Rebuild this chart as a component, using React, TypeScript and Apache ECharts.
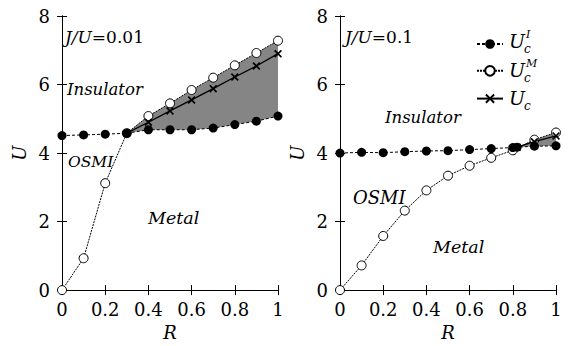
import React, { useEffect, useRef } from "react";
import * as echarts from "echarts";

// ---- data ----
const R = [0, 0.1, 0.2, 0.3, 0.4, 0.5, 0.6, 0.7, 0.8, 0.9, 1];

// Left panel, J/U = 0.01
const leftUcI = [4.51, 4.53, 4.55, 4.58, 4.68, 4.68, 4.68, 4.73, 4.83, 4.93, 5.08];
const leftUcM = [0, 0.93, 3.12, 4.58, 5.08, 5.45, 5.84, 6.2, 6.56, 6.92, 7.28];
const leftUcR = [0.3, 0.4, 0.5, 0.6, 0.7, 0.8, 0.9, 1];
const leftUc = [4.58, 4.9, 5.23, 5.55, 5.88, 6.22, 6.54, 6.9];

// Right panel, J/U = 0.1
const rightUcIR = [0, 0.1, 0.2, 0.3, 0.4, 0.5, 0.6, 0.7, 0.8, 0.82, 0.9, 1];
const rightUcI = [4.0, 4.02, 4.01, 4.04, 4.06, 4.07, 4.1, 4.13, 4.16, 4.17, 4.2, 4.21];
const rightUcM = [0, 0.72, 1.58, 2.32, 2.91, 3.34, 3.63, 3.86, 4.08, 4.39, 4.6];
const rightUcR = [0.82, 0.9, 1];
const rightUc = [4.17, 4.33, 4.5];

const zip = (xs: number[], ys: number[]) => xs.map((x, i) => [x, ys[i]]);

const leftShadeUpper = zip(R.slice(3), leftUcM.slice(3));
const leftShadeLower = zip(R.slice(3), leftUcI.slice(3));
const rightShadeUpper = [[rightUcR[0], rightUc[0]], [R[9], rightUcM[9]], [R[10], rightUcM[10]]];
const rightShadeLower = zip(rightUcIR.slice(9), rightUcI.slice(9));

const FONT = "DejaVu Serif";

const crossPath =
  "path://M1.5,0 L5,3.5 L8.5,0 L10,1.5 L6.5,5 L10,8.5 L8.5,10 L5,6.5 L1.5,10 L0,8.5 L3.5,5 L0,1.5 Z";

export default function App() {
  const ref = useRef<HTMLDivElement>(null);

  useEffect(() => {
    if (!ref.current) return;
    const chart = echarts.init(ref.current, undefined, { renderer: "svg" });

    const axisLine = { show: true, lineStyle: { color: "#000", width: 1 } };
    const mkX = (gi: number, top: boolean) => ({
      type: "value",
      gridIndex: gi,
      position: top ? "top" : "bottom",
      min: 0,
      max: 1,
      interval: 0.2,
      axisLine,
      axisTick: { show: true, inside: true, length: 5, lineStyle: { color: "#000" } },
      axisLabel: {
        show: !top,
        margin: 10,
        color: "#000",
        fontFamily: FONT,
        fontSize: 18,
        formatter: (v: number) => String(+v.toFixed(1)),
      },
      splitLine: { show: false },
      name: top ? "" : "R",
      nameLocation: "middle",
      nameGap: 27,
      nameTextStyle: { color: "#000", fontFamily: FONT, fontSize: 18, fontStyle: "italic" },
    });
    const mkY = (gi: number, right: boolean) => ({
      type: "value",
      gridIndex: gi,
      position: right ? "right" : "left",
      min: 0,
      max: 8,
      interval: 2,
      axisLine,
      axisTick: { show: true, inside: true, length: 5, lineStyle: { color: "#000" } },
      axisLabel: {
        show: !right,
        margin: 12,
        color: "#000",
        fontFamily: FONT,
        fontSize: 18,
      },
      splitLine: { show: false },
      name: right ? "" : "U",
      nameLocation: "middle",
      nameGap: 34,
      nameRotate: 90,
      nameTextStyle: { color: "#000", fontFamily: FONT, fontSize: 18, fontStyle: "italic" },
    });

    const filled = (xi: number, yi: number, data: number[][]) => ({
      name: "UcI",
      type: "line",
      xAxisIndex: xi,
      yAxisIndex: yi,
      data,
      symbol: "circle",
      symbolSize: 9,
      itemStyle: { color: "#000" },
      lineStyle: { color: "#000", width: 1, type: [3, 2] },
      z: 4,
    });
    const open = (xi: number, yi: number, data: number[][]) => ({
      name: "UcM",
      type: "line",
      xAxisIndex: xi,
      yAxisIndex: yi,
      data,
      symbol: "circle",
      symbolSize: 9,
      itemStyle: { color: "#fff", borderColor: "#000", borderWidth: 1 },
      lineStyle: { color: "#000", width: 1, type: [2, 1] },
      z: 3,
    });
    const cross = (xi: number, yi: number, data: number[][]) => ({
      name: "Uc",
      type: "line",
      xAxisIndex: xi,
      yAxisIndex: yi,
      data,
      symbol: crossPath,
      symbolSize: 8,
      itemStyle: { color: "#000" },
      lineStyle: { color: "#000", width: 1.3 },
      z: 5,
    });
    const shade = (xi: number, yi: number, upper: number[][], lower: number[][]) => ({
      type: "custom",
      xAxisIndex: xi,
      yAxisIndex: yi,
      data: [[0.5, 4]],
      encode: { x: 0, y: 1 },
      silent: true,
      z: 1,
      renderItem: (params: any, api: any) => {
        const pts = [
          ...upper.map((p) => api.coord(p)),
          ...lower.slice().reverse().map((p) => api.coord(p)),
        ];
        return { type: "polygon", shape: { points: pts }, style: { fill: "#858585", stroke: "none" } };
      },
    });

    const txt = (x: number, y: number, text: string, size = 17, italic = true) => ({
      type: "text",
      x,
      y,
      style: {
        text,
        fill: "#000",
        fontFamily: FONT,
        fontSize: size,
        fontStyle: italic ? "italic" : "normal",
        verticalAlign: "middle",
      },
      z: 100,
    });
    const ratio = (x: number, y: number, val: string) => ({
      type: "text",
      x,
      y,
      style: {
        text: `{i|J/U}{n|=${val}}`,
        rich: {
          i: { fontFamily: FONT, fontSize: 17, fontStyle: "italic", fill: "#000" },
          n: { fontFamily: FONT, fontSize: 17, fill: "#000" },
        },
        verticalAlign: "middle",
      },
      z: 100,
    });
    // U label with stacked superscript / subscript; yc = centre of the "U"
    const legLabel = (yc: number, sup: string) => [
      txt(509, yc, "U", 19),
      ...(sup ? [txt(526, yc - 7, sup, 11)] : []),
      txt(524, yc + 8, "c", 12),
    ];

    const option: any = {
      animation: false,
      grid: [
        { left: 62, top: 16, width: 216, height: 279 },
        { left: 340, top: 16, width: 216, height: 279 },
      ],
      xAxis: [mkX(0, false), mkX(1, false), mkX(0, true), mkX(1, true)],
      yAxis: [mkY(0, false), mkY(1, false), mkY(0, true), mkY(1, true)],
      legend: {
        orient: "vertical",
        left: 471,
        top: 33,
        itemWidth: 26,
        itemHeight: 12,
        itemGap: 16,
        data: ["UcI", "UcM", "Uc"],
        formatter: () => "",
        selectedMode: false,
      },
      series: [
        shade(0, 0, leftShadeUpper, leftShadeLower),
        open(0, 0, zip(R, leftUcM)),
        filled(0, 0, zip(R, leftUcI)),
        cross(0, 0, zip(leftUcR, leftUc)),
        shade(1, 1, rightShadeUpper, rightShadeLower),
        open(1, 1, zip(R, rightUcM)),
        filled(1, 1, zip(rightUcIR, rightUcI)),
        cross(1, 1, zip(rightUcR, rightUc)),
      ],
      graphic: [
        ratio(65, 37, "0.01"),
        txt(67, 89, "Insulator", 16.5),
        txt(68, 162, "OSMI", 15.5),
        txt(148, 218, "Metal", 17.5),
        ratio(345, 37, "0.1"),
        txt(385, 117, "Insulator", 16.5),
        txt(353, 197, "OSMI", 18),
        txt(433, 247, "Metal", 17.5),
        ...legLabel(41, "I"),
        ...legLabel(70, "M"),
        ...legLabel(98, ""),
      ],
    };

    chart.setOption(option);
    return () => chart.dispose();
  }, []);

  return (
    <div
      ref={ref}
      style={{ position: "absolute", left: 0, top: 0, width: 568, height: 346, background: "#fff" }}
    />
  );
}
